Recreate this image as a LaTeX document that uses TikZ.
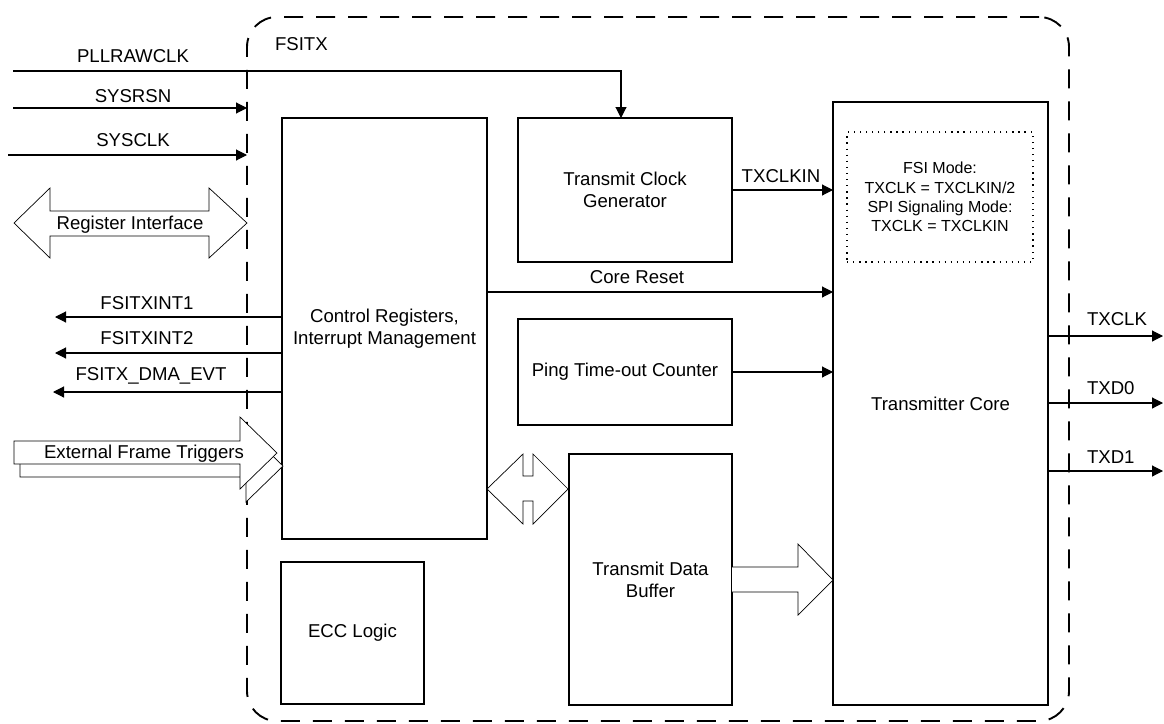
\documentclass[tikz,border=0pt]{standalone}
\usepackage{fontspec}
\setmainfont{Liberation Sans}
\usetikzlibrary{arrows.meta,calc}
\begin{document}
\begin{tikzpicture}[x=1pt,y=-1pt,
  every node/.style={outer sep=0pt,inner sep=0pt},
  txt/.style={font=\fontsize{18.6}{22}\selectfont},
  box/.style={draw,line width=1.8pt,txt,align=center},
  lbl/.style={txt,text height=13.2pt,text depth=0pt},
  dotbox/.style={draw,line width=1.3pt,dash pattern=on 1.3pt off 4.8pt,
     font=\fontsize{16}{19.3}\selectfont,align=center},
  outer/.style={draw,line width=1.9pt,dash pattern=on 19pt off 13pt,rounded corners=30pt},
  wire/.style={line width=1.1pt},
  conn/.style={wire,-{Triangle[length=11pt,width=11pt]}},
  fat/.style={draw,line width=0.7pt,fill=white,line join=miter},
]
\useasboundingbox (0,0) rectangle (1164,723);

% enclosing FSITX block
\node[outer,minimum width=822pt,minimum height=704pt] (fsitx) at (658,369) {};
\node[lbl,anchor=west] (fsitxlbl) at (275,43.5) {FSITX};

% blocks
\node[box,minimum width=205pt,minimum height=421pt] (ctrl) at (384.5,328.5) {Control Registers,\\Interrupt Management};
\node[box,minimum width=214pt,minimum height=144pt] (clkgen) at (625,190) {Transmit Clock\\Generator};
\node[box,minimum width=214pt,minimum height=106pt] (ping) at (625,372) {Ping Time-out Counter};
\node[box,minimum width=163pt,minimum height=251pt] (buf) at (650.5,579.5) {Transmit Data\\Buffer};
\node[box,minimum width=143pt,minimum height=142pt] (ecc) at (352.5,633) {ECC Logic};
\node[box,minimum width=215pt,minimum height=603pt] (core) at (940.5,403.5) {Transmitter Core};
\node[dotbox,minimum width=186pt,minimum height=130pt] (mode) at (940,197)
  {FSI Mode:\\TXCLK = TXCLKIN/2\\SPI Signaling Mode:\\TXCLK = TXCLKIN};

% external inputs
\coordinate (pll) at (13,71);
\coordinate (rsn) at (13,108);
\coordinate (sclk) at (8,155);
\draw[conn] (pll) -| ([xshift=-4pt]clkgen.north);
\node[lbl] (plllbl) at (133,56) {PLLRAWCLK};
\draw[conn] (rsn) -- (rsn -| fsitx.west);
\node[lbl] (rsnlbl) at (133,96) {SYSRSN};
\draw[conn] (sclk) -- (sclk -| fsitx.west);
\node[lbl] (sclklbl) at (133,140) {SYSCLK};

% register interface (double fat arrow)
\draw[fat] (14,223) -- (50,188) -- (50,211) -- (209,211) -- (209,188) -- (247,223)
  -- (209,258) -- (209,236) -- (50,236) -- (50,258) -- cycle;
\node[lbl] (reglbl) at (130,223) {Register Interface};

% interrupt outputs
\coordinate (int1) at (55,317);
\coordinate (int2) at (55,353);
\coordinate (dma) at (53,392);
\draw[conn] (int1 -| ctrl.west) -- (int1);
\node[lbl] (int1lbl) at (147,303) {FSITXINT1};
\draw[conn] (int2 -| ctrl.west) -- (int2);
\node[lbl] (int2lbl) at (147,338) {FSITXINT2};
\draw[conn] (dma -| ctrl.west) -- (dma);
\node[lbl] (dmalbl) at (151,374) {FSITX\_DMA\_EVT};

% external frame triggers (shadowed fat arrow)
\draw[fat] (20,454) -- (246,454) -- (246,430) -- (283,466) -- (246,502) -- (246,477) -- (20,477) -- cycle;
\draw[fat] (14,441) -- (240,441) -- (240,417) -- (277,453) -- (240,489) -- (240,464) -- (14,464) -- cycle;
\node[lbl] (eftlbl) at (144,452) {External Frame Triggers};

% internal connections
\draw[conn] (clkgen.east) -- (clkgen.east -| core.west);
\node[lbl] (txclkinlbl) at (781,176) {TXCLKIN};
\coordinate (rst) at (0,292);
\draw[conn] (rst -| ctrl.east) -- (rst -| core.west);
\node[lbl] (rstlbl) at (637,277) {Core Reset};
\draw[conn] (ping.east) -- (ping.east -| core.west);

% control <-> buffer double arrow
\draw[fat] (487,489) -- (523,454) -- (523,476) -- (533,476) -- (533,454) -- (568,489)
  -- (533,524) -- (533,501) -- (523,501) -- (523,524) -- cycle;

% buffer -> core fat arrow
\draw[fat] (732,567) -- (798,567) -- (798,544) -- (833,580) -- (798,615) -- (798,592) -- (732,592);

% outputs
\coordinate (oclk) at (1163,336);
\coordinate (od0) at (1163,403);
\coordinate (od1) at (1163,471);
\draw[conn] (oclk -| core.east) -- (oclk);
\node[lbl,anchor=west] (oclklbl) at (1087,319) {TXCLK};
\draw[conn] (od0 -| core.east) -- (od0);
\node[lbl,anchor=west] (od0lbl) at (1087,388) {TXD0};
\draw[conn] (od1 -| core.east) -- (od1);
\node[lbl,anchor=west] (od1lbl) at (1087,457) {TXD1};
\end{tikzpicture}
\end{document}
